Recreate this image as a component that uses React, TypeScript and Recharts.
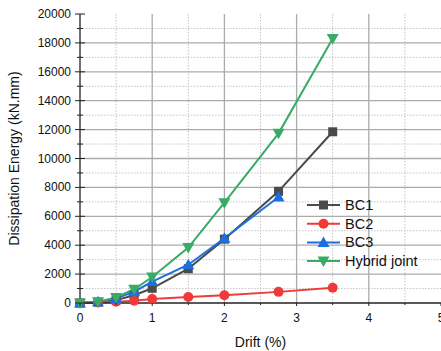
import React from 'react'
import {
  LineChart,
  Line,
  XAxis,
  YAxis,
  CartesianGrid,
  Label,
} from 'recharts'

const drift = [0, 0.25, 0.5, 0.75, 1, 1.5, 2, 2.75, 3.5]
const bc1 = [0, 50, 200, 540, 1020, 2370, 4420, 7730, 11850]
const bc2 = [0, 30, 90, 160, 280, 420, 540, 770, 1060]
const bc3 = [0, 90, 320, 780, 1480, 2650, 4480, 7340, null]
const hybrid = [0, 80, 380, 950, 1800, 3840, 6940, 11740, 18300]

const xTicks = [0, 0.5, 1, 1.5, 2, 2.5, 3, 3.5, 4, 4.5, 5]
const yTicks = [
  0, 1000, 2000, 3000, 4000, 5000, 6000, 7000, 8000, 9000, 10000, 11000, 12000,
  13000, 14000, 15000, 16000, 17000, 18000, 19000, 20000,
]
const xMajor = [1, 2, 3, 4]
const yMajor = [2000, 4000, 6000, 8000, 10000, 12000, 14000, 16000, 18000]
const xMinor = [0.5, 1.5, 2.5, 3.5, 4.5]
const yMinor = [1000, 3000, 5000, 7000, 9000, 11000, 13000, 15000, 17000, 19000]

const data = drift.map((d, i) => ({
  drift: d,
  bc1: bc1[i],
  bc2: bc2[i],
  bc3: bc3[i],
  hybrid: hybrid[i],
}))

const series = [
  { key: 'bc1', name: 'BC1', color: '#4a4a4a', shape: 'square' },
  { key: 'bc2', name: 'BC2', color: '#f03a3a', shape: 'circle' },
  { key: 'bc3', name: 'BC3', color: '#1c6fe0', shape: 'up' },
  { key: 'hybrid', name: 'Hybrid joint', color: '#38ab66', shape: 'down' },
]

const FONT = 'Liberation Sans, Arial, sans-serif'
const AXIS = '#222'

const Marker = ({ shape, cx, cy, color }: any) => {
  if (cx == null || cy == null) return null
  if (shape === 'square')
    return <rect x={cx - 4.5} y={cy - 4.5} width={9} height={9} fill={color} />
  if (shape === 'circle') return <circle cx={cx} cy={cy} r={5} fill={color} />
  if (shape === 'up')
    return (
      <polygon
        points={`${cx},${cy - 6} ${cx - 6},${cy + 4.5} ${cx + 6},${cy + 4.5}`}
        fill={color}
      />
    )
  return (
    <polygon
      points={`${cx},${cy + 6} ${cx - 6},${cy - 4.5} ${cx + 6},${cy - 4.5}`}
      fill={color}
    />
  )
}

const LeftTick = (p: any) => {
  const major = p.payload.value % 2000 === 0
  return (
    <g>
      <line x1={p.x - (major ? 5 : 3)} x2={p.x + (major ? 5 : 3)} y1={p.y} y2={p.y} stroke={AXIS} />
      {major && (
        <text x={p.x - 9} y={p.y} dy={4} textAnchor="end" fontSize={12} fontFamily={FONT} fill="#111">
          {p.payload.value}
        </text>
      )}
    </g>
  )
}

const RightTick = (p: any) => {
  const major = p.payload.value % 2000 === 0
  return <line x1={p.x - (major ? 4 : 2)} x2={p.x} y1={p.y} y2={p.y} stroke={AXIS} />
}

const BottomTick = (p: any) => {
  const major = p.payload.value % 1 === 0
  return (
    <g>
      <line x1={p.x} x2={p.x} y1={p.y} y2={p.y + (major ? 3 : 2)} stroke={AXIS} />
      {major && (
        <text x={p.x} y={p.y + 19} textAnchor="middle" fontSize={12} fontFamily={FONT} fill="#111">
          {p.payload.value}
        </text>
      )}
    </g>
  )
}

const TopTick = (p: any) => {
  const major = p.payload.value % 1 === 0
  return <line x1={p.x} x2={p.x} y1={p.y} y2={p.y + (major ? 4 : 2)} stroke={AXIS} />
}

const LegendBox = () => (
  <svg
    width={140}
    height={80}
    style={{ position: 'absolute', left: 300, top: 192, overflow: 'visible' }}
  >
    {series.map((s, i) => {
      const y = 13 + i * 18.7
      return (
        <g key={s.key}>
          <line x1={7} x2={40} y1={y} y2={y} stroke={s.color} strokeWidth={2} />
          <Marker shape={s.shape} cx={23.5} cy={y} color={s.color} />
          <text x={45} y={y + 5} fontSize={14.5} fontFamily={FONT} fill="#111">
            {s.name}
          </text>
        </g>
      )
    })}
  </svg>
)

export default function App() {
  return (
    <div
      style={{
        position: 'absolute',
        left: 0,
        top: 0,
        width: 441,
        height: 351,
        overflow: 'hidden',
        background: '#fff',
      }}
    >
      <LineChart
        width={461}
        height={351}
        data={data}
        margin={{ top: 14, right: 20, left: 0, bottom: 0 }}
      >
        <CartesianGrid
          stroke="#c4c4c4"
          strokeDasharray="1.5 1.5"
          horizontalValues={yMinor}
          verticalValues={xMinor}
        />
        <CartesianGrid
          stroke="#ababab"
          strokeWidth={1.3}
          horizontalValues={yMajor}
          verticalValues={xMajor}
        />
        <XAxis
          dataKey="drift"
          type="number"
          domain={[0, 5]}
          ticks={xTicks}
          height={48}
          interval={0}
          tickSize={0}
          tickMargin={0}
          tickLine={false}
          tick={<BottomTick />}
          axisLine={{ stroke: AXIS, strokeWidth: 1.3 }}
        >
          <Label
            value="Drift (%)"
            position="insideBottom"
            offset={4}
            style={{ fontSize: 14, fontFamily: FONT, fill: '#111' }}
          />
        </XAxis>
        <XAxis
          xAxisId="top"
          orientation="top"
          type="number"
          domain={[0, 5]}
          ticks={xTicks}
          height={0}
          interval={0}
          tickSize={0}
          tickMargin={0}
          tickLine={false}
          tick={<TopTick />}
          axisLine={{ stroke: AXIS, strokeWidth: 1.3 }}
        />
        <YAxis
          type="number"
          domain={[0, 20000]}
          ticks={yTicks}
          width={80}
          interval={0}
          tickSize={0}
          tickMargin={0}
          tickLine={false}
          tick={<LeftTick />}
          axisLine={{ stroke: AXIS, strokeWidth: 1.3 }}
        >
          <Label
            value="Dissipation Energy (kN.mm)"
            angle={-90}
            position="insideLeft"
            offset={14}
            style={{ fontSize: 14, fontFamily: FONT, fill: '#111', textAnchor: 'middle' }}
          />
        </YAxis>
        <YAxis
          yAxisId="right"
          orientation="right"
          type="number"
          domain={[0, 20000]}
          ticks={yTicks}
          width={0}
          interval={0}
          tickSize={0}
          tickMargin={0}
          tickLine={false}
          tick={<RightTick />}
          axisLine={{ stroke: AXIS, strokeWidth: 1.3 }}
        />
        {series.map((s) => (
          <Line
            key={s.key}
            dataKey={s.key}
            name={s.name}
            stroke={s.color}
            strokeWidth={2}
            isAnimationActive={false}
            dot={(p: any) => (
              <Marker key={p.index} shape={s.shape} cx={p.cx} cy={p.cy} color={s.color} />
            )}
            activeDot={false}
          />
        ))}
      </LineChart>
      <LegendBox />
    </div>
  )
}
